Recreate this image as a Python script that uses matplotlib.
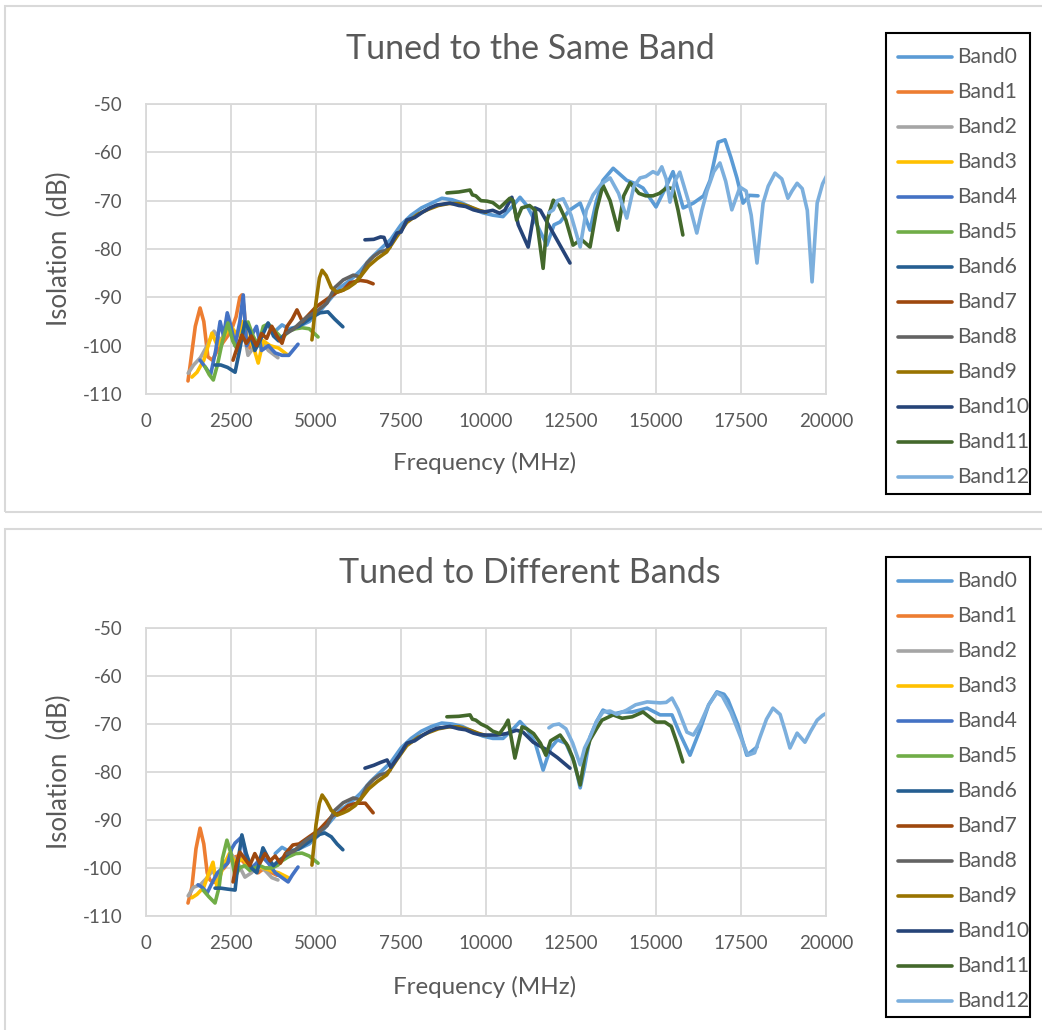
import matplotlib
matplotlib.use("Agg")
import matplotlib.pyplot as plt
from matplotlib.patches import Rectangle
from matplotlib.lines import Line2D

# ---------------- DATA ----------------
band_names = ["Band0", "Band1", "Band2", "Band3", "Band4", "Band5", "Band6",
              "Band7", "Band8", "Band9", "Band10", "Band11", "Band12"]
band_colors = ["#5B9BD5", "#ED7D31", "#A5A5A5", "#FFC000", "#4472C4", "#70AD47",
               "#255E91", "#9E480E", "#636363", "#997300", "#264478", "#43682B",
               "#7CAFDD"]
x_ticks = [0, 2500, 5000, 7500, 10000, 12500, 15000, 17500, 20000]
y_ticks = [-110, -100, -90, -80, -70, -60, -50]

# ---- Tuned to the Same Band ----
same_b0_x = [3800, 4000, 4200, 4500, 4800, 5100, 5400, 5700, 6000, 6300, 6600, 6900, 7200, 7500,
             7800, 8100, 8400, 8700, 9000, 9300, 9600, 9900, 10200, 10500, 10800, 11000, 11200,
             11500, 11790, 12000, 12180, 12450, 12770, 13060, 13250, 13440, 13740, 14140, 14400,
             14620, 15000, 15320, 15500, 15800, 16100, 16400, 16590, 16830, 17030, 17200, 17380,
             17560, 17750, 18000]
same_b0_y = [-97, -95.7, -96.5, -96, -95, -93, -90.5, -88, -86.5, -84.5, -82, -80, -78, -75,
             -73, -71.5, -70.5, -69.5, -69.8, -70.5, -71.5, -72.5, -73, -73.3, -71, -69.3, -71,
             -75, -79.2, -75, -74.4, -72, -70.5, -76.1, -70, -65.8, -63.3, -65.8, -66.5,
             -67.4, -71.3, -66.8, -64, -71.5, -70.5, -69, -65.8, -57.9, -57.4, -61, -65.3,
             -70.5, -68.9, -69]
same_b1_x = [1235, 1300, 1450, 1590, 1700, 1820, 1950, 2100, 2300, 2500, 2650, 2760, 2820, 2880, 2950, 3050]
same_b1_y = [-107.3, -104, -96, -92.2, -95, -102.3, -103, -101, -99, -97, -94, -90, -89.5, -92, -98, -100.5]
same_b2_x = [1240, 1400, 1600, 1800, 2000, 2200, 2400, 2600, 2800, 2900, 3000, 3200, 3400, 3600, 3880]
same_b2_y = [-105.7, -104, -102.5, -100, -97, -99, -96, -98, -96, -98, -102, -100, -99, -101, -102.5]
same_b3_x = [1350, 1500, 1700, 1940, 2100, 2300, 2500, 2700, 2850, 3000, 3150, 3300, 3450, 3650, 3900, 4180]
same_b3_y = [-106.5, -105.5, -103, -97.4, -100, -98, -96, -98, -95, -99, -100, -103.6, -99, -100, -100.5, -102]
same_b4_x = [1590, 1750, 1900, 2050, 2180, 2280, 2390, 2500, 2620, 2760, 2860, 2960, 3100, 3250,
             3400, 3600, 3800, 4000, 4200, 4470]
same_b4_y = [-103, -104.5, -106, -101, -95, -98, -93.2, -96, -100, -95, -89.5, -100, -98, -96,
             -101, -100, -101.5, -102, -102, -99.7]
same_b5_x = [1740, 1860, 1980, 2100, 2250, 2410, 2550, 2700, 2850, 3000, 3150, 3300, 3450, 3600,
             3800, 4000, 4200, 4400, 4590, 4800, 5060]
same_b5_y = [-104.4, -106, -107.1, -104, -99, -95.3, -99, -101, -97, -95.1, -98, -100, -96, -95.5,
             -97, -98.5, -97, -96.5, -96.3, -96.5, -98.2]
same_b6_x = [2030, 2200, 2400, 2620, 2750, 2910, 3050, 3200, 3350, 3590, 3750, 3900, 4100, 4300,
             4500, 4700, 4900, 5120, 5350, 5550, 5790]
same_b6_y = [-104, -104, -104.5, -105.5, -101, -95.1, -97, -101, -99, -95.3, -98, -99, -97.5, -96.5,
             -96, -95, -94, -93.2, -93, -94.5, -96.1]
same_b7_x = [2560, 2700, 2820, 2950, 3100, 3250, 3400, 3550, 3700, 3850, 4000, 4150, 4300, 4440,
             4600, 4800, 5000, 5200, 5400, 5600, 5800, 6000, 6300, 6500, 6680]
same_b7_y = [-103, -100, -97.8, -99.5, -98, -100, -97.5, -98.5, -96, -98, -99.5, -96, -94.5, -92.6,
             -95, -93.5, -92, -91, -90, -89, -88.5, -87, -86.5, -86.7, -87.2]
same_b8_x = [4150, 4350, 4530, 4750, 5000, 5320, 5550, 5800, 6100, 6300, 6500, 6700, 6880, 7050, 7180]
same_b8_y = [-97.4, -96.5, -95.3, -94, -93, -91.2, -88, -86.4, -85.4, -85.8, -82.9, -81.5, -80.6, -80.3, -79.6]
same_b9_x = [4880, 5000, 5100, 5180, 5300, 5450, 5610, 5800, 5950, 6150, 6340, 6550, 6800, 7080,
             7370, 7670, 8000, 8300, 8600, 8900, 9200, 9500, 9800, 10000]
same_b9_y = [-98.8, -91, -86, -84.4, -85.5, -88, -88.9, -88.5, -88, -87, -85.4, -83.5, -82, -80.6,
             -77.5, -74.5, -72.8, -71.8, -71, -70.6, -70.6, -71.2, -72, -72.4]
same_b10_x = [6440, 6700, 6900, 7000, 7100, 7200, 7380, 7500, 7670, 7900, 8150, 8350, 8550, 8750,
              8940, 9200, 9400, 9630, 9800, 9970, 10200, 10400, 10550, 10760, 10950, 11240, 11440,
              11600, 12470]
same_b10_y = [-78.1, -78, -77.5, -77.6, -79.5, -79, -76.7, -76.5, -74, -73.5, -72.3, -71.5, -70.9, -70.7,
              -70.5, -71, -71.2, -71.9, -72.2, -72.3, -72, -72.6, -72, -69.3, -75, -79.6, -71.5,
              -72, -82.9]
same_b11_x = [8850, 9200, 9530, 9600, 9700, 9850, 10030, 10200, 10400, 10550, 10700, 10800, 10900,
              11050, 11280, 11450, 11680, 11800, 11980, 12150, 12350, 12560, 12800, 13060, 13250,
              13440, 13650, 13880, 14050, 14240, 14500, 14700, 14910, 15100, 15320, 15500, 15650, 15790]
same_b11_y = [-68.4, -68.2, -67.8, -68.8, -69, -70, -70.1, -70.4, -71.5, -70.5, -69.5, -70, -74,
              -71.5, -71, -72, -84, -74, -69.9, -71, -74, -79.2, -78, -79.6, -72,
              -66.8, -70, -76.1, -69, -66.3, -68.5, -69, -69, -68.5, -67.3, -67.5, -72, -77.1]
same_b12_x = [11850, 11980, 12100, 12270, 12500, 12770, 12950, 13150, 13400, 13650, 13900, 14140,
              14350, 14530, 14700, 14910, 15050, 15170, 15300, 15410, 15550, 15700, 15950, 16200,
              16350, 16500, 16700, 16880, 17050, 17230, 17470, 17650, 17800, 17970, 18150, 18300,
              18500, 18700, 18880, 19000, 19150, 19300, 19450, 19590, 19740, 19900, 20030]
same_b12_y = [-72.5, -71.9, -70, -69.6, -73, -79.6, -72, -68.8, -66.5, -65.3, -68.5, -73.6,
              -67, -65.3, -65, -64, -64.5, -63, -65.5, -70.3, -66, -64.1, -70, -76.7,
              -72, -68, -64, -62.2, -66, -71.9, -67.2, -68, -73, -82.9, -70.5, -67,
              -64.3, -65.5, -69.5, -68, -66.4, -67.5, -72, -86.8, -70.5, -66.5, -64.7]

# ---- Tuned to Different Bands ----
diff_b0_x = [3800, 4000, 4200, 4500, 4800, 5100, 5400, 5700, 6000, 6300, 6600, 6900, 7200, 7500,
             7800, 8100, 8400, 8700, 9000, 9300, 9600, 9900, 10200, 10500, 10800, 11000, 11200,
             11450, 11680, 11900, 12100, 12350, 12600, 12770, 12900, 13060, 13250, 13440, 13700,
             14000, 14300, 14740, 15120, 15470, 15700, 16000, 16290, 16550, 16790, 17000, 17120,
             17400, 17670, 17970]
diff_b0_y = [-97, -95.7, -96.5, -96, -95, -93, -90.5, -88, -86.5, -84.5, -82, -80, -78, -75,
             -73, -71.5, -70.5, -69.8, -70, -70.5, -71.5, -72.5, -73, -73, -71, -69.5, -71,
             -74, -79.6, -75, -73.3, -74, -78, -83.3, -79, -72.7, -69.5, -67.1, -68,
             -67.5, -67.5, -66.7, -68.1, -68.1, -72, -76.5, -71.3, -66, -63.3, -63.8, -65,
             -70, -76.5, -74.8]
diff_b1_x = [1235, 1350, 1470, 1590, 1700, 1800, 1880, 2000, 2150, 2300, 2500, 2700, 2900, 3100,
             3300, 3410, 3550, 3700, 3850, 4000]
diff_b1_y = [-107.3, -104, -96, -91.7, -95, -101, -102.5, -103, -101, -100, -98, -97.5, -99, -100,
             -101, -100.4, -100, -101, -101.5, -101.5]
diff_b2_x = [1240, 1400, 1600, 1800, 1970, 2100, 2300, 2500, 2700, 2910, 3100, 3300, 3500, 3700, 3880]
diff_b2_y = [-105.8, -104, -103.5, -102, -100.4, -103, -99, -97, -99, -101.9, -101, -99.5, -100.5, -102, -102.5]
diff_b3_x = [1350, 1500, 1700, 1850, 1970, 2090, 2250, 2450, 2650, 2850, 3050, 3250, 3450, 3650, 3900, 4180]
diff_b3_y = [-106.2, -105.5, -104, -101, -98.8, -104, -100, -97, -99, -98, -100, -99.5, -100, -100.5, -101, -102]
diff_b4_x = [1530, 1650, 1800, 1950, 2100, 2250, 2400, 2520, 2620, 2820, 2950, 3100, 3250, 3400,
             3600, 3800, 4000, 4180, 4300, 4470]
diff_b4_y = [-103.5, -104, -105.2, -103, -101, -100, -99, -96, -94.8, -93.5, -98, -100, -99, -97.5,
             -99, -101, -102, -102.9, -101.5, -99.8]
diff_b5_x = [1680, 1850, 2030, 2150, 2250, 2380, 2500, 2620, 2750, 2900, 3050, 3200, 3350, 3500,
             3700, 3880, 4000, 4180, 4400, 4590, 4800, 5060]
diff_b5_y = [-104.6, -106, -107.3, -104, -98, -94.2, -97, -101.9, -100, -99.5, -100.5, -100, -99.5, -100,
             -100, -99.4, -98.5, -97.7, -97, -96.9, -97.5, -99]
diff_b6_x = [2030, 2200, 2400, 2620, 2720, 2820, 2950, 3100, 3260, 3440, 3600, 3750, 3900, 4100,
             4300, 4500, 4700, 4900, 5100, 5260, 5450, 5620, 5790]
diff_b6_y = [-104.2, -104.2, -104.4, -104.6, -98, -93.1, -97, -100, -101, -95.8, -98, -99.5, -98.5, -97.5,
             -96.5, -96, -95, -94, -93, -92.7, -93.5, -95, -96.2]
diff_b7_x = [2560, 2660, 2760, 2900, 3050, 3200, 3350, 3500, 3650, 3800, 3950, 4100, 4320, 4500,
             4700, 4900, 5100, 5300, 5500, 5700, 5950, 6200, 6450, 6680]
diff_b7_y = [-102.9, -99, -96.7, -98, -99.5, -97, -99, -97, -98.5, -97.5, -99, -97, -95.2, -95,
             -94, -93, -92, -90.5, -89, -88.5, -87, -86.5, -86.5, -88.5]
diff_b8_x = [4150, 4350, 4530, 4750, 5000, 5320, 5550, 5800, 6100, 6300, 6500, 6700, 6880, 7050, 7180]
diff_b8_y = [-97, -96.5, -95.3, -94, -93, -91.2, -88, -86.4, -85.4, -85.8, -82.9, -81.5, -80.6, -80.3, -79.6]
diff_b9_x = [4880, 5000, 5100, 5180, 5300, 5450, 5620, 5800, 5950, 6150, 6340, 6550, 6800, 7080,
             7370, 7670, 8000, 8300, 8600, 8900, 9200, 9500, 9800, 10000]
diff_b9_y = [-99.4, -91, -86.5, -84.8, -86, -88, -89, -88.5, -88, -87, -85.4, -83.5, -82, -80.6,
             -77.5, -74.5, -72.8, -71.8, -71, -70.6, -70.6, -71.2, -72, -72.4]
diff_b10_x = [6440, 6700, 6900, 7090, 7200, 7300, 7450, 7670, 7900, 8150, 8350, 8550, 8750, 8940,
              9200, 9400, 9630, 9800, 9970, 10320, 10600, 10900, 11090, 11390, 11790, 12100, 12470]
diff_b10_y = [-79.2, -78.6, -78, -77.5, -79, -78, -76.5, -74, -73.5, -72.3, -71.5, -70.9, -70.7, -70.5,
              -71, -71.2, -71.9, -72.2, -72.3, -72.3, -72, -71.3, -71.7, -73.8, -75.4, -77, -79.2]
diff_b11_x = [8850, 9200, 9530, 9600, 9700, 9850, 10030, 10200, 10400, 10550, 10650, 10850, 11060,
              11200, 11400, 11600, 11760, 11900, 12180, 12400, 12550, 12770, 12900, 13060, 13250,
              13410, 13740, 14000, 14300, 14620, 14800, 15000, 15260, 15450, 15620, 15790]
diff_b11_y = [-68.5, -68.4, -68.1, -69, -69.2, -70, -70.6, -71.5, -72, -70.5, -69.2, -77.1, -70.6,
              -71, -72, -74, -76.5, -73.5, -72.3, -74.5, -77, -82.7, -77, -73.3, -71,
              -69.2, -68.1, -68.8, -68.5, -67.5, -68.5, -69.6, -69.6, -70.5, -74, -77.9]
diff_b12_x = [11850, 11980, 12150, 12350, 12550, 12770, 12900, 13060, 13250, 13440, 13650, 13850,
              14140, 14400, 14740, 15120, 15300, 15470, 15650, 15910, 16100, 16300, 16550, 16790,
              16950, 17200, 17450, 17700, 17900, 18060, 18250, 18440, 18650, 18800, 18940, 19150,
              19380, 19550, 19740, 19900, 20030]
diff_b12_y = [-70.8, -70.2, -70, -71, -74, -78.5, -75, -72.7, -69.5, -67.5, -67.3, -68,
              -67.1, -66, -65.4, -65.6, -65.5, -64.6, -67, -71.7, -72.3, -70, -66, -63.5,
              -64.2, -67.5, -72, -76.5, -76, -72.7, -69, -66.7, -68, -71.5, -75, -71.9,
              -73.8, -71.5, -69.2, -68.2, -67.7]

same_series = [(same_b0_x, same_b0_y), (same_b1_x, same_b1_y), (same_b2_x, same_b2_y),
               (same_b3_x, same_b3_y), (same_b4_x, same_b4_y), (same_b5_x, same_b5_y),
               (same_b6_x, same_b6_y), (same_b7_x, same_b7_y), (same_b8_x, same_b8_y),
               (same_b9_x, same_b9_y), (same_b10_x, same_b10_y), (same_b11_x, same_b11_y),
               (same_b12_x, same_b12_y)]
diff_series = [(diff_b0_x, diff_b0_y), (diff_b1_x, diff_b1_y), (diff_b2_x, diff_b2_y),
               (diff_b3_x, diff_b3_y), (diff_b4_x, diff_b4_y), (diff_b5_x, diff_b5_y),
               (diff_b6_x, diff_b6_y), (diff_b7_x, diff_b7_y), (diff_b8_x, diff_b8_y),
               (diff_b9_x, diff_b9_y), (diff_b10_x, diff_b10_y), (diff_b11_x, diff_b11_y),
               (diff_b12_x, diff_b12_y)]

# ---------------- FIGURE ----------------
plt.rcParams['font.family'] = ['Lato', 'DejaVu Sans']
W, H = 1042, 1030
fig = plt.figure(figsize=(W / 100, H / 100), dpi=100)
TXT = "#595959"
GRID = "#D9D9D9"


def frect(l, t, r, b):
    return [l / W, 1 - b / H, (r - l) / W, (b - t) / H]


def fx(px):
    return px / W


def fy(py):
    return 1 - py / H


def draw_panel(series, title, box, plot, legend_box, title_y, xlabel_y):
    # outer chart border
    bl, bt, br, bb = box
    fig.patches.append(Rectangle((fx(bl), fy(bb)), (br - bl) / W, (bb - bt) / H,
                                 transform=fig.transFigure, fill=False, ec=GRID, lw=1.5))
    pl, pt, pr, pb = plot
    ax = fig.add_axes(frect(pl, pt, pr, pb))
    for (xs, ys), c in zip(series, band_colors):
        ax.plot(xs, ys, color=c, lw=2.6, solid_capstyle='round', solid_joinstyle='round')
    ax.set_xlim(0, 20000)
    ax.set_ylim(-110, -50)
    ax.set_xticks(x_ticks)
    ax.set_yticks(y_ticks)
    ax.set_xticklabels([str(v) for v in x_ticks])
    ax.set_yticklabels([str(v) for v in y_ticks])
    ax.grid(True, color=GRID, lw=1.3)
    ax.set_axisbelow(True)
    for s in ax.spines.values():
        s.set_color(GRID)
        s.set_linewidth(1.3)
    ax.tick_params(length=0, labelcolor=TXT, labelsize=13.5)
    ax.tick_params(axis='y', pad=17)
    ax.tick_params(axis='x', pad=14)
    # titles
    fig.text(fx(530), fy(title_y), title, ha='center', va='center',
             fontsize=24.5, color=TXT)
    fig.text(fx(485), fy(xlabel_y), "Frequency (MHz)", ha='center', va='center',
             fontsize=17.4, color=TXT)
    fig.text(fx(59), fy((pt + pb) / 2), "Isolation  (dB)", ha='center', va='center',
             rotation=90, fontsize=18.5, color=TXT)
    # legend
    ll, lt, lr, lb = legend_box
    fig.patches.append(Rectangle((fx(ll), fy(lb)), (lr - ll) / W, (lb - lt) / H,
                                 transform=fig.transFigure, fill=False, ec='black', lw=1.5))
    for i, (name, c) in enumerate(zip(band_names, band_colors)):
        yy = lt + 24 + 35 * i
        fig.lines.append(Line2D([fx(ll + 12), fx(ll + 66)], [fy(yy), fy(yy)],
                                transform=fig.transFigure, color=c, lw=2.6,
                                solid_capstyle='round'))
        fig.text(fx(ll + 71), fy(yy), name, ha='left', va='center', fontsize=15.2, color=TXT)


draw_panel(same_series, "Tuned to the Same Band", (5, 6, 1045, 512), (146, 104, 826, 394),
           (886, 33, 1030, 494), 49, 463)
draw_panel(diff_series, "Tuned to Different Bands", (5, 529, 1045, 1035), (146, 628, 826, 916),
           (886, 557, 1030, 1017), 573, 987)

fig.savefig("out.png", dpi=100, facecolor='white')
